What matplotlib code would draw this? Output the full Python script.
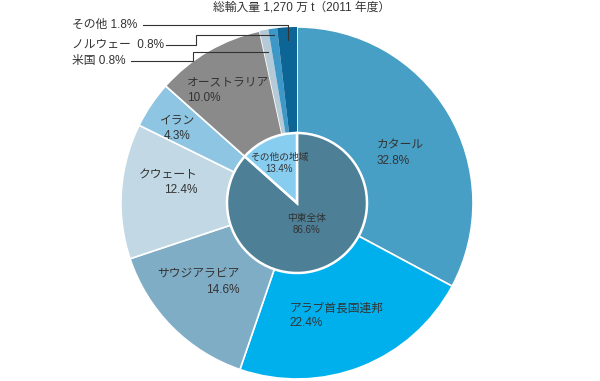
import numpy as np
import matplotlib.pyplot as plt

plt.rcParams['font.family'] = ['Liberation Sans', 'Noto Sans CJK JP', 'DejaVu Sans']

# outer ring: importing countries (share of total, %)
countries = ['カタール', 'アラブ首長国連邦', 'サウジアラビア', 'クウェート', 'イラン',
             'オーストラリア', '米国', 'ノルウェー', 'その他']
shares = [32.8, 22.4, 14.6, 12.4, 4.3, 10.0, 0.8, 0.8, 1.8]
outer_colors = ['#479fc5', '#00b0ec', '#80adc6', '#c2d9e5', '#8ec5e2',
                '#8a8a8a', '#b5cad6', '#3d98c8', '#0d6596']

# inner pie: region
regions = ['中東全体', 'その他の地域']
region_shares = [86.6, 13.4]
inner_colors = ['#4d7f96', '#87cdf0']

title = '総輸入量 1,270 万 t（2011 年度）'

W, H = 600, 381
fig = plt.figure(figsize=(6, 3.81), dpi=100)
ax = fig.add_axes([0, 0, 1, 1])

cx, cy, R, r_in = 297, H - 203, 176, 70
txt = '#333333'

wedges, _ = ax.pie(shares, colors=outer_colors, startangle=90, counterclock=False,
                   center=(cx, cy), radius=R, frame=True,
                   wedgeprops=dict(edgecolor='white', linewidth=1.2))
# small slices: no white separators
for w in wedges[6:]:
    w.set_linewidth(0)
    w.set_edgecolor(w.get_facecolor())

iw, _ = ax.pie(region_shares, colors=inner_colors, startangle=90, counterclock=False,
               center=(cx, cy), radius=r_in, frame=True,
               wedgeprops=dict(edgecolor='white', linewidth=1.8))


def mid(w):
    return np.deg2rad((w.theta1 + w.theta2) / 2)


# labels inside the big slices: (radial factor, angle shift in deg, multialignment)
inside = {0: (0.65, -5, 'left'), 1: (0.68, -2, 'left'), 2: (0.72, -6, 'right'),
          3: (0.74, -5, 'right'), 4: (0.8, 2, 'center'), 5: (0.75, 1, 'left')}
for i, (f, da, ma) in inside.items():
    a = mid(wedges[i]) + np.deg2rad(da)
    ax.text(cx + f * R * np.cos(a), cy + f * R * np.sin(a),
            f'{countries[i]}\n{shares[i]:.1f}%', ha='center', va='center',
            multialignment=ma, fontsize=8.5, color=txt, linespacing=1.35)

for w, name, v, f in zip(iw, regions, region_shares, [0.33, 0.62]):
    a = mid(w)
    ax.text(cx + f * r_in * np.cos(a), cy + f * r_in * np.sin(a),
            f'{name}\n{v:.1f}%', ha='center', va='center', fontsize=7,
            color=txt, linespacing=1.25)

# leader lines for the tiny slices
# (label y, line start x, elbow x, line y at slice)  in image pixels
leaders = {6: (61, 131, 193, 52), 7: (45, 166, 196, 35)}
labels = {6: '米国 0.8%', 7: 'ノルウェー  0.8%'}
for i, (ty, sx, ex, ly) in leaders.items():
    a = mid(wedges[i])
    yy = H - ly
    xx = cx + (yy - cy) / np.tan(a)
    ax.plot([sx, ex, ex, xx], [H - ty, H - ty, yy, yy],
            color=txt, lw=0.8, solid_joinstyle='miter')
    ax.text(72, H - ty, labels[i], ha='left', va='center', fontsize=8.5, color=txt)

a = mid(wedges[8])
vx = cx + (H - 40 - cy) / np.tan(a)
ax.plot([143, vx, vx], [H - 25, H - 25, H - 40], color=txt, lw=0.8)
ax.text(72, H - 25, f'{countries[8]} {shares[8]:.1f}%', ha='left', va='center',
        fontsize=8.5, color=txt)

ax.text(302, H - 7, title, ha='center', va='center', fontsize=8.5, color=txt)

ax.set_xlim(0, W)
ax.set_ylim(0, H)
ax.set_aspect('auto')
ax.axis('off')

fig.savefig('out.png', dpi=100)
